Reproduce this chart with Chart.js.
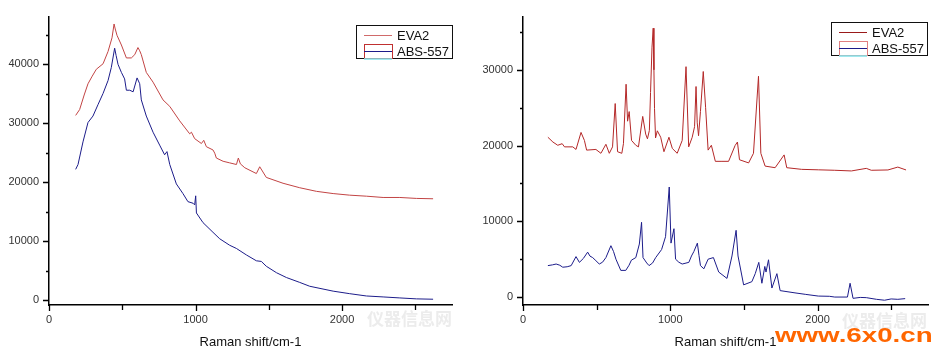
<!DOCTYPE html>
<html><head><meta charset="utf-8">
<script src="https://cdn.jsdelivr.net/npm/chart.js@4.4.0/dist/chart.umd.min.js"></script>
<style>
html,body{margin:0;padding:0;background:#fff;width:949px;height:357px;overflow:hidden;position:relative;}
canvas{position:absolute;top:0;}
#c1{left:0px} #c2{left:470px}
.wm{position:absolute;font-family:"Noto Sans CJK SC";color:#ececec;font-size:17px;font-weight:bold;line-height:20px;white-space:nowrap}
.wm2{position:absolute;font-family:"Liberation Sans",Arial,sans-serif;font-weight:bold;color:#ff6600;font-size:21px;line-height:21px;transform-origin:left top;transform:scale(1.32,1);white-space:nowrap}
</style></head><body>
<canvas id="c1" width="470" height="357"></canvas>
<canvas id="c2" width="479" height="357"></canvas>
<div class="wm" style="left:367px;top:308px">仪器信息网</div>
<div class="wm" style="left:842px;top:310px">仪器信息网</div>
<div class="wm2" style="left:775px;top:324px;">www.6x0.cn</div>
<script>
// ---------- data ----------
const seriesNames = ["EVA2", "ABS-557"];
const axisTitle = "Raman shift/cm-1";

// left panel
const leftEvaX = [182,209,240,266,295,323,369,403,430,444,452,464,494,528,562,585,607,619,630,664,710,778,824,892,960,972,994,1040,1056,1074,1119,1131,1142,1188,1233,1279,1292,1306,1336,1415,1438,1483,1597,1711,1825,1939,2052,2166,2280,2394,2507,2621];
const leftEvaY = [31340,32330,34800,36700,38000,39170,40100,42190,44500,46850,46000,44930,43280,41090,41090,41640,42850,42300,41640,38630,36980,33970,32870,30410,28220,28490,27400,26570,27120,26030,25480,24930,24110,23560,23290,23010,24110,23120,22460,21480,22630,20820,19830,19070,18460,18080,17810,17640,17420,17420,17260,17200];
const leftAbsX = [182,198,232,266,300,334,369,403,425,448,458,471,494,516,528,551,574,601,619,630,664,710,755,789,805,824,869,914,948,983,994,1001,1006,1051,1119,1165,1233,1279,1347,1415,1449,1483,1552,1620,1711,1779,1939,2052,2166,2280,2394,2507,2621];
const leftAbsY = [22190,23010,26850,30130,31230,33150,35070,37260,39450,42740,41500,40000,38630,37530,35610,35610,35340,37700,36710,33970,31230,28490,26300,24660,25200,23010,19720,18080,16710,16440,16160,17700,14790,13150,11510,10410,9310,8770,7670,6680,6570,5750,4660,3840,3010,2360,1530,1100,710,550,380,220,160];

// right panel
const rightEvaX = [169,203,236,266,282,338,360,394,417,432,495,529,563,586,608,626,642,671,682,700,710,721,737,766,784,813,833,845,858,866,876,884,889,893,900,912,935,957,991,1014,1047,1081,1107,1125,1149,1165,1175,1183,1192,1205,1224,1240,1257,1279,1306,1351,1396,1440,1456,1470,1532,1565,1599,1615,1644,1712,1773,1791,1892,2005,2117,2230,2331,2365,2478,2545,2601];
const rightEvaY = [21100,20470,20040,20250,19830,19830,19490,21740,20680,19400,19490,18980,20170,18980,19830,25550,19190,18980,20250,28100,23220,24490,20680,20040,19830,23850,21520,20890,22000,27000,33000,35500,30000,24910,21000,21950,21100,19190,21100,19620,18980,20680,30420,19830,21100,22500,27800,23000,21300,24500,29780,25000,19400,20040,17920,17920,17920,20000,20470,18130,17710,18980,29150,18980,17290,17080,18770,17080,16860,16800,16740,16650,16990,16740,16780,17160,16780];
const rightAbsX = [169,200,225,250,270,300,327,360,383,410,439,455,473,495,518,540,563,597,615,631,664,698,720,736,766,790,805,815,840,856,880,901,941,968,993,1005,1025,1036,1058,1081,1126,1144,1160,1184,1195,1205,1228,1257,1293,1329,1385,1419,1447,1460,1498,1554,1577,1601,1622,1642,1650,1667,1690,1724,1746,1847,1920,2005,2080,2117,2203,2221,2241,2290,2331,2400,2455,2500,2545,2595];
const rightAbsY = [4150,4250,4360,4200,3940,4000,4150,5340,4580,5100,5930,5400,5210,4800,4360,4600,5210,6780,6000,5000,3520,3520,4200,4870,5210,7000,9870,5210,4500,4150,4500,5210,6270,7970,14530,7120,9025,5000,4600,4360,4580,5420,6000,7120,5500,4150,3730,5000,5210,3300,2460,5420,8810,5420,1610,2030,3090,4580,1820,4040,3300,4920,1190,3090,850,550,350,130,100,0,0,1820,-170,-50,-80,-300,-420,-250,-300,-210];

// ticks
const xTicks = [0,500,1000,1500,2000,2500];
const xTickLabels = [0,1000,2000];
const leftYTicks = [0,5000,10000,15000,20000,25000,30000,35000,40000,45000];
const rightYTicks = [0,5000,10000,15000,20000,25000,30000,35000];
const yTickLabels = [0,10000,20000,30000,40000];

// ---------- rendering ----------
const zip = (xs, ys) => xs.map((x, i) => ({x: x, y: ys[i]}));
const FONT = '"Liberation Sans", Arial, sans-serif';

const tickPlugin = {
  id: 'axisTicks',
  afterDraw(chart, args, o) {
    const ctx = chart.ctx, xs = chart.scales.x, ys = chart.scales.y, ca = chart.chartArea;
    ctx.save();
    ctx.strokeStyle = '#000'; ctx.lineWidth = 1.3;
    ctx.beginPath();
    xs.ticks.forEach(t => {
      const px = Math.round(xs.getPixelForValue(t.value)) + 0.5;
      const len = xTickLabels.includes(t.value) ? 6 : 5;
      ctx.moveTo(px, ca.bottom); ctx.lineTo(px, ca.bottom + len);
    });
    ys.ticks.forEach(t => {
      const py = Math.round(ys.getPixelForValue(t.value)) + 0.5;
      const len = yTickLabels.includes(t.value) ? 6 : 3;
      ctx.moveTo(ca.left, py); ctx.lineTo(ca.left - len, py);
    });
    ctx.stroke();
    ctx.restore();
  }
};

const legendPlugin = {
  id: 'boxLegend',
  afterDraw(chart, args, o) {
    const ctx = chart.ctx;
    ctx.save();
    ctx.strokeStyle = '#111'; ctx.lineWidth = 1;
    ctx.strokeRect(o.x + 0.5, o.y + 0.5, o.w, o.h);
    ctx.strokeStyle = o.c1;
    ctx.beginPath(); ctx.moveTo(o.lx, o.r1 + 0.5); ctx.lineTo(o.lx + o.lw, o.r1 + 0.5); ctx.stroke();
    ctx.strokeStyle = o.rc;
    ctx.strokeRect(o.lx + 0.5, o.r2 - 7 + 0.5, o.lw, o.y + o.h - (o.r2 - 7));
    ctx.strokeStyle = o.c2;
    ctx.beginPath(); ctx.moveTo(o.lx, o.r2 + 0.5); ctx.lineTo(o.lx + o.lw, o.r2 + 0.5); ctx.stroke();
    ctx.strokeStyle = '#7fe3ea'; ctx.lineWidth = 1.5;
    ctx.beginPath(); ctx.moveTo(o.lx, o.y + o.h + 1); ctx.lineTo(o.lx + o.lw, o.y + o.h + 1); ctx.stroke();
    ctx.fillStyle = '#111'; ctx.font = '13px ' + FONT; ctx.textBaseline = 'middle'; ctx.textAlign = 'left';
    ctx.fillText(seriesNames[0], o.tx, o.r1 + 1);
    ctx.fillText(seriesNames[1], o.tx, o.r2 + 1);
    ctx.restore();
  }
};

function makeChart(id, evaPts, absPts, yMin, yMax, yTicks, pad, yw, evaColor, legendOpts) {
  return new Chart(document.getElementById(id), {
    type: 'scatter',
    data: {
      datasets: [
        {label: seriesNames[0], data: evaPts, showLine: true, borderColor: evaColor, borderWidth: 1, pointRadius: 0, tension: 0},
        {label: seriesNames[1], data: absPts, showLine: true, borderColor: '#1c1c8a', borderWidth: 1, pointRadius: 0, tension: 0}
      ]
    },
    options: {
      responsive: false, animation: false, events: [],
      layout: {padding: pad},
      plugins: {legend: {display: false}, tooltip: {enabled: false}, boxLegend: legendOpts},
      scales: {
        x: {
          type: 'linear', min: 0, max: 2750,
          afterBuildTicks: s => { s.ticks = xTicks.map(v => ({value: v})); },
          afterFit: s => { s.height = 357 - 305 - pad.bottom; },
          ticks: {autoSkip: false, maxRotation: 0, padding: 8, color: '#333', font: {family: FONT, size: 11},
                  callback: v => xTickLabels.includes(v) ? String(v) : ''},
          grid: {display: true, drawOnChartArea: false, drawTicks: false, color: 'rgba(0,0,0,0)'},
          border: {display: true, color: '#000', width: 1.5},
          title: {display: true, text: axisTitle, color: '#111', font: {family: FONT, size: 13}, padding: {top: 0, bottom: 7}}
        },
        y: {
          type: 'linear', min: yMin, max: yMax,
          afterBuildTicks: s => { s.ticks = yTicks.map(v => ({value: v})); },
          afterFit: s => { s.width = yw; },
          ticks: {autoSkip: false, padding: 10, color: '#333', font: {family: FONT, size: 11},
                  callback: v => yTickLabels.includes(v) ? String(v) : ''},
          grid: {display: true, drawOnChartArea: false, drawTicks: false, color: 'rgba(0,0,0,0)'},
          border: {display: true, color: '#000', width: 1.5}
        }
      }
    },
    plugins: [tickPlugin, legendPlugin]
  });
}

makeChart('c1', zip(leftEvaX, leftEvaY), zip(leftAbsX, leftAbsY), -820, 48100, leftYTicks,
  {top: 7, right: 18, left: 0, bottom: 0}, 49, '#c24444',
  {x: 356, y: 25, w: 96, h: 33, lx: 364, lw: 28, r1: 35, r2: 51, tx: 397, c1: '#d06a6a', c2: '#1c1c8a', rc: '#c03030'});

makeChart('c2', zip(rightEvaX, rightEvaY), zip(rightAbsX, rightAbsY), -1050, 37030, rightYTicks,
  {top: 5, right: 21, left: 0, bottom: 0}, 53, '#b42828',
  {x: 361, y: 22, w: 96, h: 33, lx: 369, lw: 28, r1: 32, r2: 48, tx: 402, c1: '#9a1a1a', c2: '#1c1c8a', rc: '#e08080'});
</script>
</body></html>
